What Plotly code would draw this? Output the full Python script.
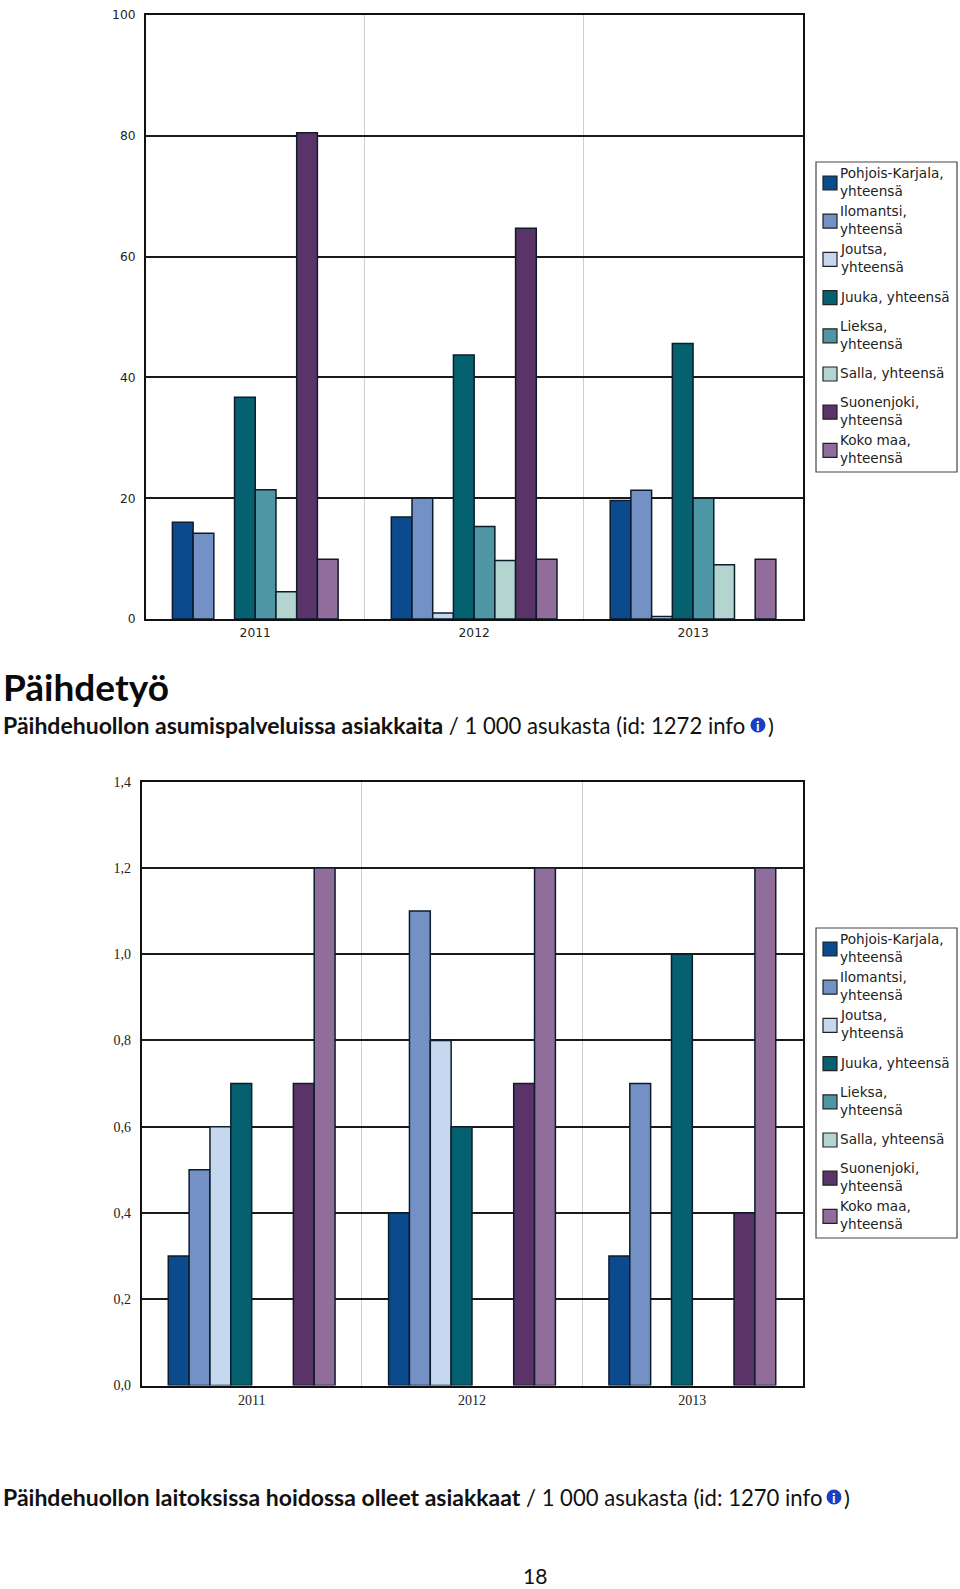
import plotly.graph_objects as go

W, H = 960, 1589
years = [2011, 2012, 2013]
names = ["Pohjois-Karjala,<br>yhteensä", "Ilomantsi,<br>yhteensä", "Joutsa,<br>yhteensä",
         "Juuka, yhteensä", "Lieksa,<br>yhteensä", "Salla, yhteensä",
         "Suonenjoki,<br>yhteensä", "Koko maa,<br>yhteensä"]
colors = ["#0B4A8C", "#7391C4", "#C6D8F0", "#05616F", "#4F96A4", "#B3D4CF", "#5A3468", "#916D9C"]

asumis_pk = [16.0, 16.9, 19.6]
asumis_ilomantsi = [14.2, 20.0, 21.3]
asumis_joutsa = [None, 1.0, 0.4]
asumis_juuka = [36.7, 43.7, 45.6]
asumis_lieksa = [21.4, 15.3, 20.0]
asumis_salla = [4.5, 9.7, 9.0]
asumis_suonenjoki = [80.5, 64.7, None]
asumis_koko = [9.9, 9.9, 9.9]
asumis = [asumis_pk, asumis_ilomantsi, asumis_joutsa, asumis_juuka,
          asumis_lieksa, asumis_salla, asumis_suonenjoki, asumis_koko]

laitos_pk = [0.3, 0.4, 0.3]
laitos_ilomantsi = [0.5, 1.1, 0.7]
laitos_joutsa = [0.6, 0.8, None]
laitos_juuka = [0.7, 0.6, 1.0]
laitos_lieksa = [None, None, None]
laitos_salla = [None, None, None]
laitos_suonenjoki = [0.7, 0.7, 0.4]
laitos_koko = [1.2, 1.2, 1.2]
laitos = [laitos_pk, laitos_ilomantsi, laitos_joutsa, laitos_juuka,
          laitos_lieksa, laitos_salla, laitos_suonenjoki, laitos_koko]

def px(x): return x / W
def py(y): return 1 - y / H

fig = go.Figure()
for i, n in enumerate(names):
    label = n.replace("<br>", " ")
    fig.add_bar(x=years, y=asumis[i], name=label, marker=dict(color=colors[i], line=dict(color="#0C1C2A", width=1.5)),
                xaxis="x", yaxis="y", showlegend=False)
    fig.add_bar(x=years, y=laitos[i], name=label, marker=dict(color=colors[i], line=dict(color="#0C1C2A", width=1.5)),
                xaxis="x2", yaxis="y2", showlegend=False)

def xax(dom, anchor, font):
    return dict(domain=dom, anchor=anchor, range=[2010.5, 2013.5], tickvals=years, tickformat="d",
                showline=True, mirror=True, linecolor="#111", linewidth=1.5, showgrid=False, zeroline=False,
                ticks="", tickfont=font, ticklabelstandoff=1,
                minor=dict(tickvals=[2011.5, 2012.5], showgrid=True, gridcolor="#CFCFCF", gridwidth=1, ticks=""))

def yax(dom, anchor, rng, dtick, fmt, font):
    return dict(domain=dom, anchor=anchor, range=rng, dtick=dtick, tickformat=fmt, showline=True, mirror=True,
                linecolor="#111", linewidth=1.5, showgrid=True, gridcolor="#1a1a1a", gridwidth=1.6, zeroline=False,
                ticks="", tickfont=font, ticklabelstandoff=6)

font1 = dict(family="DejaVu Sans", size=12.3, color="#222")
font2 = dict(family="Liberation Serif", size=14, color="#222")

shapes, annots = [], []

def text(x, y, t, size, bold=False, family="Lato", color="#111", anchor="left"):
    annots.append(dict(xref="paper", yref="paper", x=px(x), y=py(y), text=f"<b>{t}</b>" if bold else t,
                       showarrow=False, xanchor=anchor, yanchor="middle", align="left", borderpad=0,
                       font=dict(family=family, size=size, color=color)))

def legend(top):
    shapes.append(dict(type="rect", xref="paper", yref="paper", x0=px(816), x1=px(957), y0=py(top), y1=py(top + 310),
                       line=dict(color="#444", width=1.2), fillcolor="white"))
    for i, n in enumerate(names):
        cy = top + 21 + i * 38.2
        shapes.append(dict(type="rect", xref="paper", yref="paper", x0=px(823), x1=px(837), y0=py(cy - 7), y1=py(cy + 7),
                           line=dict(color="#222", width=1.2), fillcolor=colors[i]))
        annots.append(dict(xref="paper", yref="paper", x=px(838.5), y=py(cy - 1), text=n, showarrow=False,
                           xanchor="left", yanchor="middle", align="left", borderpad=0,
                           font=dict(family="DejaVu Sans", size=13.6, color="#222")))

def icon(cx, cy):
    shapes.append(dict(type="circle", xref="paper", yref="paper", x0=px(cx - 7.5), x1=px(cx + 7.5), y0=py(cy - 7.5), y1=py(cy + 7.5),
                       line=dict(width=0), fillcolor="#1A3FC0"))
    text(cx, cy, "i", 14, bold=True, color="white", anchor="center")

def subtitle(y, bold, rest):
    annots.append(dict(xref="paper", yref="paper", x=px(2), y=py(y), showarrow=False, xanchor="left", yanchor="middle",
                       borderpad=0,
                       text=f'<b style="font-size:23px">{bold}</b> {rest}',
                       font=dict(family="Lato", size=22.1, color="#111")))

legend(162)
legend(928)
text(2, 686, "Päihdetyö", 37, bold=True, color="#0a0a0a")
subtitle(725, "Päihdehuollon asumispalveluissa asiakkaita", "/ 1 000 asukasta (id: 1272 info")
icon(758, 725)
text(767, 725, ")", 22)
subtitle(1497, "Päihdehuollon laitoksissa hoidossa olleet asiakkaat", "/ 1 000 asukasta (id: 1270 info")
icon(834, 1497)
text(843, 1497, ")", 22)
text(535, 1575, "18", 21, anchor="center")

fig.update_layout(
    width=W, height=H, margin=dict(l=0, r=0, t=0, b=0, autoexpand=False), paper_bgcolor="white", plot_bgcolor="white",
    barmode="group", bargap=0.243, bargroupgap=0, separators=",.", showlegend=False,
    xaxis=xax([px(145.8), px(802.5)], "y", font1),
    yaxis=yax([py(619), py(15)], "x", [0, 100], 20, "d", font1),
    xaxis2=xax([px(141.5), px(802.5)], "y2", font2),
    yaxis2=yax([py(1385.5), py(781.7)], "x2", [0, 1.4], 0.2, ".1f", font2),
    shapes=shapes, annotations=annots,
)
fig.write_html("out.html", config={"displayModeBar": False},
               post_script="document.body.style.margin='0';document.documentElement.style.overflow='hidden';")
